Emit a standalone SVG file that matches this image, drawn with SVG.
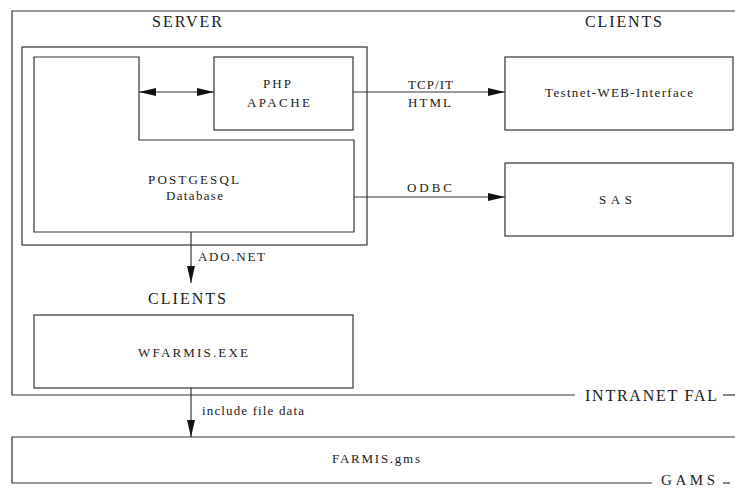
<svg xmlns="http://www.w3.org/2000/svg" width="735" height="489" viewBox="0 0 735 489">
<style>
  .ln{fill:none;stroke:#333;stroke-width:1.2}
  .bx{fill:#fff;stroke:#333;stroke-width:1.2}
  text{font-family:"Liberation Serif","Times New Roman",serif;fill:#1a1a1a}
  .h{font-size:16px}
  .t{font-size:13px}
</style>
<defs>
  <marker id="ah" markerUnits="userSpaceOnUse" markerWidth="18" markerHeight="9" refX="17" refY="4" orient="auto-start-reverse" viewBox="0 0 18 8">
    <path d="M0,0 L17,4 L0,8 z" fill="#111"/>
  </marker>
</defs>
<rect width="735" height="489" fill="#fff"/>

<g id="intranet">
  <path class="ln" d="M735,11 H12 V395 H575"/>
  <path class="ln" d="M723,395 H735"/>
  <text class="h" x="585" y="401" textLength="132" lengthAdjust="spacing">INTRANET FAL</text>
</g>

<g id="gams">
  <path class="ln" d="M735,437 H12 V483 H652"/>
  <path class="ln" d="M723,483 H730"/>
  <text class="h" style="font-size:15px" x="661" y="485" textLength="54" lengthAdjust="spacing">GAMS</text>
  <text class="t" x="332" y="463" textLength="88" lengthAdjust="spacing">FARMIS.gms</text>
</g>

<g id="server">
  <rect class="bx" x="22" y="47" width="345" height="198"/>
  <text class="h" x="152" y="27" textLength="70" lengthAdjust="spacing">SERVER</text>
</g>

<g id="postgres">
  <path class="bx" d="M34,57 H139 V140 H354 V232 H34 Z"/>
  <text class="t" x="148" y="184" textLength="91" lengthAdjust="spacing">POSTGESQL</text>
  <text class="t" x="166" y="200" textLength="57" lengthAdjust="spacing">Database</text>
</g>

<g id="php">
  <rect class="bx" x="214" y="57" width="139" height="73"/>
  <text class="t" x="263" y="88" textLength="28" lengthAdjust="spacing">PHP</text>
  <text class="t" x="247" y="107" textLength="63" lengthAdjust="spacing">APACHE</text>
</g>

<g id="clients-top">
  <text class="h" x="585" y="27" textLength="77" lengthAdjust="spacing">CLIENTS</text>
</g>

<g id="testnet">
  <rect class="bx" x="505" y="57" width="228" height="73"/>
  <text class="t" x="545" y="97" textLength="148" lengthAdjust="spacing">Testnet-WEB-Interface</text>
</g>

<g id="sas">
  <rect class="bx" x="505" y="163" width="228" height="73"/>
  <text class="t" x="599" y="204" textLength="33" lengthAdjust="spacing">SAS</text>
</g>

<g id="clients-bottom">
  <text class="h" x="148" y="304" textLength="78" lengthAdjust="spacing">CLIENTS</text>
</g>

<g id="wfarmis">
  <rect class="bx" x="34" y="315" width="319" height="73"/>
  <text class="t" x="138" y="357" textLength="110" lengthAdjust="spacing">WFARMIS.EXE</text>
</g>

<g id="connectors">
  <line class="ln" x1="139" y1="92" x2="214" y2="92" marker-start="url(#ah)" marker-end="url(#ah)"/>
  <line class="ln" x1="353" y1="92" x2="505" y2="92" marker-end="url(#ah)"/>
  <text class="t" x="408" y="89" textLength="45" lengthAdjust="spacing">TCP/IT</text>
  <text class="t" x="408" y="107" textLength="43" lengthAdjust="spacing">HTML</text>
  <line class="ln" x1="354" y1="197" x2="505" y2="197" marker-end="url(#ah)"/>
  <text class="t" x="407" y="192" textLength="45" lengthAdjust="spacing">ODBC</text>
  <line class="ln" x1="191" y1="232" x2="191" y2="283" marker-end="url(#ah)"/>
  <text class="t" x="198" y="261" textLength="67" lengthAdjust="spacing">ADO.NET</text>
  <line class="ln" x1="191" y1="388" x2="191" y2="437" marker-end="url(#ah)"/>
  <text class="t" x="202" y="415" textLength="102" lengthAdjust="spacing">include file data</text>
</g>
</svg>
